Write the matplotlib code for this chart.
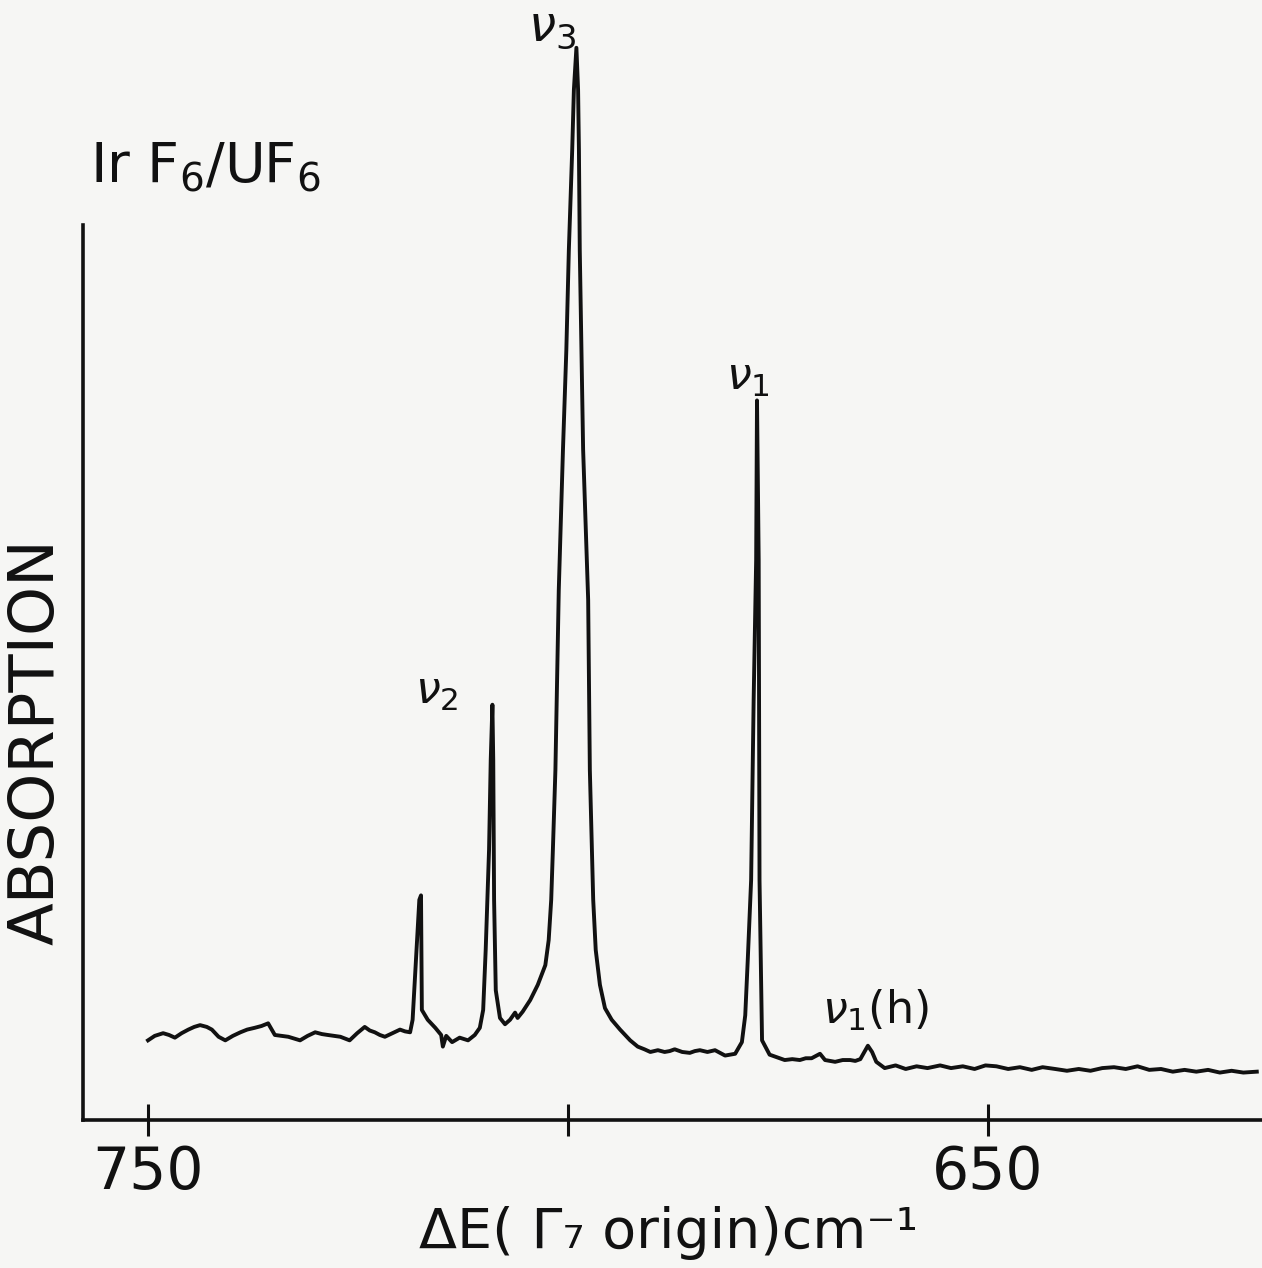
"""IrF6/UF6 absorption spectrum."""

import matplotlib
matplotlib.use("Agg")
import matplotlib.pyplot as plt

# wavenumber (cm-1, relative to Gamma7 origin)
wavenumber = [
    750.0, 749.2, 748.2, 747.5, 746.8, 746.0, 745.2, 744.5, 743.8, 743.0,
    742.4, 741.6, 740.8, 739.9, 739.0, 738.2, 737.3, 736.5, 735.7, 734.9,
    734.1, 733.3, 732.6, 731.9, 731.0, 730.1, 729.3, 728.6, 727.8, 727.1,
    726.0, 725.1, 724.2, 723.6, 723.0, 722.4, 721.8, 720.9, 720.0, 719.4,
    718.8, 718.5, 718.1, 717.7, 717.5, 717.45, 717.4, 716.7,
    715.8, 715.1, 714.9, 714.5, 713.8, 712.9, 711.9, 711.1, 710.5, 710.1,
    709.8, 709.4, 709.2, 709.0, 708.9, 708.8, 708.6, 708.1, 707.5, 706.9,
    706.3, 706.0, 705.4, 704.5, 703.6, 702.7, 702.3, 702.0, 701.8, 701.5,
    701.1, 700.6, 700.2, 699.9, 699.5, 699.3, 699.0, 698.8, 698.7, 698.6,
    698.5, 698.2, 697.6, 697.4, 697.0, 696.7, 696.2, 695.6, 694.8, 693.8,
    692.6, 691.7, 690.9, 690.2, 689.3, 688.5, 687.9, 687.3, 686.4, 685.5,
    684.9, 684.3, 683.4, 682.5, 681.9, 681.3, 680.7, 680.1,
    679.3, 678.9, 678.6, 678.2, 677.9, 677.6, 677.5, 677.3, 677.2, 676.9,
    676.0, 675.1, 674.2, 673.3, 672.4, 671.7, 671.0, 670.0, 669.4, 668.8,
    668.2, 667.3, 666.4, 665.8, 665.2, 664.6,
    664.3, 663.8, 663.3, 662.3, 661.0, 659.8, 658.5, 657.2, 655.7, 654.4,
    653.0, 651.6, 650.3, 649.0, 647.6, 646.2, 644.8, 643.5, 642.0, 640.6,
    639.2, 637.8, 636.4, 635.0, 633.6, 632.2, 630.8, 629.4, 628.0, 626.6,
    625.2, 623.8, 622.4, 621.0, 619.6, 618.0,
]
absorption = [
    8.9, 9.4, 9.7, 9.5, 9.2, 9.7, 10.1, 10.4, 10.6, 10.4,
    10.1, 9.3, 8.9, 9.4, 9.8, 10.1, 10.3, 10.5, 10.8, 9.5,
    9.4, 9.3, 9.1, 8.9, 9.4, 9.8, 9.6, 9.5, 9.4, 9.3,
    8.9, 9.7, 10.4, 10.0, 9.8, 9.5, 9.3, 9.7, 10.1, 9.9,
    9.8, 11.2, 17.9, 24.6, 25.1, 18.0, 12.3, 11.2,
    10.3, 9.5, 8.2, 9.4, 8.7, 9.2, 8.9, 9.5, 10.3, 12.3,
    19.0, 30.2, 40.2, 46.4, 40.2, 24.6, 14.5, 11.4, 10.7, 11.2,
    12.0, 11.4, 12.1, 13.4, 15.1, 17.3, 20.1, 24.6, 30.2, 39.1,
    59.2, 74.9, 86.0, 97.2, 108.4, 115.1, 119.8, 115.1, 108.4, 97.2,
    91.6, 74.9, 58.1, 39.1, 24.6, 19.0, 15.1, 12.5, 11.2, 10.1,
    8.9, 8.2, 7.9, 7.6, 7.8, 7.6, 7.7, 7.9, 7.6, 7.5,
    7.7, 7.8, 7.6, 7.8, 7.5, 7.2, 7.3, 7.4,
    8.7, 11.7, 17.9, 26.8, 46.9, 62.6, 80.4, 62.6, 26.8, 8.9,
    7.3, 7.0, 6.7, 6.8, 6.7, 6.9, 6.9, 7.4, 6.7, 6.6,
    6.5, 6.7, 6.7, 6.6, 6.8, 7.8,
    8.3, 7.6, 6.5, 5.8, 6.1, 5.7, 6.0, 5.8, 6.1, 5.8,
    6.0, 5.7, 6.1, 6.0, 5.7, 5.9, 5.6, 5.9, 5.7, 5.5,
    5.7, 5.5, 5.8, 5.9, 5.7, 6.0, 5.6, 5.7, 5.4, 5.6,
    5.4, 5.6, 5.3, 5.5, 5.3, 5.4,
]

tickPositions = [750, 700, 650]
tickLabels = ["750", "", "650"]

# peak labels: (text, wavenumber, absorption)
peakLabels = [
    (r"$\nu_2$", 715.6, 45.5),
    (r"$\nu_1$", 678.6, 80.6),
    (r"$\nu_1$(h)", 663.4, 9.7),
]

paper = "#f6f6f4"
ink = "#111111"

fig = plt.figure(figsize=(12.62, 12.68), dpi=100)
fig.patch.set_facecolor(paper)
ax = fig.add_axes([83 / 1262, 1 - 1120 / 1268, 1 - 83 / 1262, 895 / 1268])
ax.set_facecolor(paper)

ax.plot(wavenumber, absorption, color=ink, linewidth=2.8,
        solid_joinstyle="round", clip_on=False)

ax.set_xlim(757.74, 617.38)
ax.set_ylim(0, 100)

for side in ["top", "right"]:
    ax.spines[side].set_visible(False)
for side in ["left", "bottom"]:
    ax.spines[side].set_linewidth(2.6)
    ax.spines[side].set_color(ink)

ax.set_yticks([])
ax.set_xticks(tickPositions)
ax.set_xticklabels(tickLabels, fontsize=42, color=ink)
ax.tick_params(axis="x", direction="inout", length=23, width=2.2,
               pad=6, colors=ink)

for text, xPos, yPos in peakLabels:
    ax.text(xPos, yPos, text, fontsize=32, color=ink, ha="center",
            va="bottom", clip_on=False)

# nu3 label sits above the axes top, right at the figure edge
fig.text(552 / 1262, 1 - 3 / 1268, r"$\nu_3$", fontsize=35, color=ink,
         ha="center", va="top")

fig.text(90 / 1262, 1 - 183 / 1268, r"Ir F$_6$/UF$_6$", fontsize=40,
         color=ink, ha="left", va="baseline")
fig.text(37 / 1262, 1 - 742 / 1268, "ABSORPTION", fontsize=45,
         color=ink, rotation=90, ha="center", va="center")
fig.text(668 / 1262, 1 - 1233 / 1268, "ΔE( Γ₇ origin)cm⁻¹", fontsize=40,
         color=ink, ha="center", va="center")

fig.savefig("out.png", dpi=100, facecolor=paper)
